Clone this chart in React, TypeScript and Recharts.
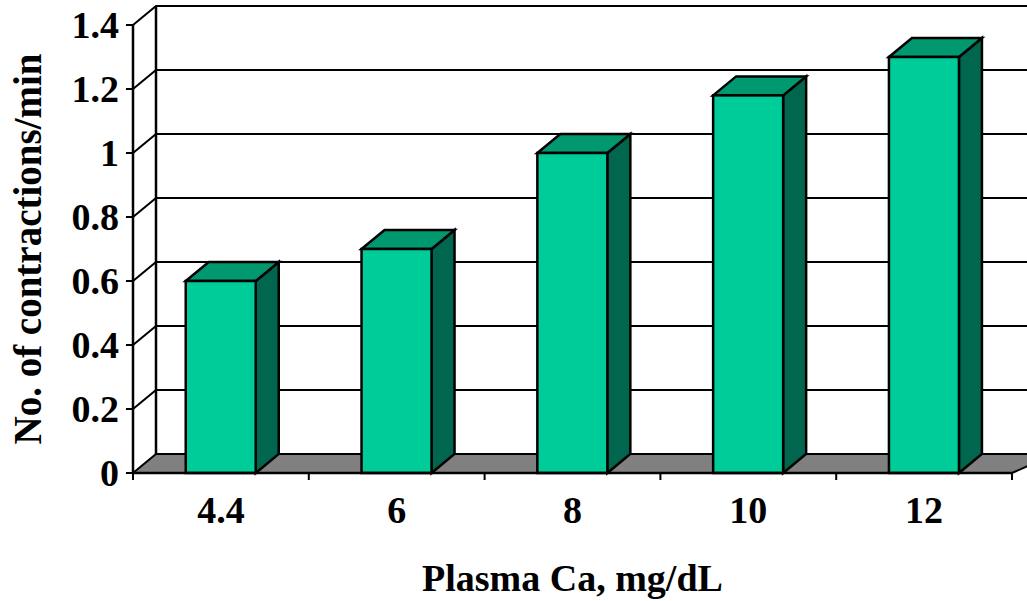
import { BarChart, Bar, XAxis, YAxis, CartesianGrid } from "recharts";

// Plasma calcium level vs. contraction rate
const categories = ["4.4", "6", "8", "10", "12"];
const contractions = [0.6, 0.7, 1.0, 1.18, 1.3];
const yTicks = [0, 0.2, 0.4, 0.6, 0.8, 1, 1.2, 1.4];

const data = categories.map((c, i) => ({ ca: c, rate: contractions[i] }));

const W = 1027;
const H = 601;
// depth offset of the fake 3D
const DX = 23;
const DY = 19;
const FONT = '"Liberation Serif", "Times New Roman", serif';
const LABEL_SIZE = 38;

const gridLine = (p: any) => {
  const { x1, x2, y1, horizontalPoints } = p;
  const pts: number[] = horizontalPoints && horizontalPoints.length ? horizontalPoints : [p.y, p.y + p.height];
  const bottom = Math.max(...pts);
  const top = Math.min(...pts);
  if (Math.abs(y1 - bottom) < 0.5) {
    // floor + back-left edge of the wall
    return (
      <g key={p.key}>
        <line x1={x1 + DX} y1={top - DY} x2={x1 + DX} y2={y1 - DY} stroke="#000" strokeWidth={2.5} />
        <polygon
          points={`${x1},${y1} ${x1 + DX},${y1 - DY} ${x2 + DX + 20},${y1 - DY} ${x2},${y1}`}
          fill="#808080"
          stroke="#000"
          strokeWidth={2}
        />
      </g>
    );
  }
  return (
    <polyline
      key={p.key}
      points={`${x1},${y1} ${x1 + DX},${y1 - DY} ${x2 + DX + 20},${y1 - DY}`}
      fill="none"
      stroke="#000"
      strokeWidth={2}
    />
  );
};

const Column3D = (p: any) => {
  const { x, y, width, height } = p;
  if (!height) return null;
  const r = x + width;
  const b = y + height;
  return (
    <g stroke="#000" strokeWidth={2.5} strokeLinejoin="miter">
      <polygon points={`${r},${y} ${r + DX},${y - DY} ${r + DX},${b - DY} ${r},${b}`} fill="#00664D" />
      <polygon points={`${x},${y} ${x + DX},${y - DY} ${r + DX},${y - DY} ${r},${y}`} fill="#00996F" />
      <rect x={x} y={y} width={width} height={height} fill="#00CC99" />
    </g>
  );
};

const XTick = (p: any) => {
  const { x, y, width, visibleTicksCount, index, payload } = p;
  const band = width / (visibleTicksCount || categories.length);
  const axisY = y - 8;
  const last = index === (visibleTicksCount || categories.length) - 1;
  return (
    <g>
      <line x1={x - band / 2} y1={axisY} x2={x - band / 2} y2={axisY + 7} stroke="#000" strokeWidth={2} />
      {last && <line x1={x + band / 2} y1={axisY} x2={x + band / 2} y2={axisY + 7} stroke="#000" strokeWidth={2} />}
      <text
        x={x}
        y={axisY + 37}
        dy="0.35em"
        textAnchor="middle"
        fontFamily={FONT}
        fontWeight="bold"
        fontSize={LABEL_SIZE}
        fill="#000"
      >
        {payload.value}
      </text>
    </g>
  );
};

const YTitle = (p: any) => {
  const vb = p.viewBox || { y: 25, height: 448 };
  const cy = vb.y + vb.height / 2;
  const cx = 27;
  return (
    <text
      x={cx}
      y={cy}
      transform={`rotate(-90 ${cx} ${cy})`}
      textAnchor="middle"
      dominantBaseline="central"
      fontFamily={FONT}
      fontWeight="bold"
      fontSize={LABEL_SIZE + 1}
      fill="#000"
    >
      No. of contractions/min
    </text>
  );
};

export default function App() {
  return (
    <div style={{ position: "absolute", left: 0, top: 0, width: W, height: H, background: "#fff" }}>
      <BarChart width={W} height={H} data={data} margin={{ top: 25, right: 15, left: 0, bottom: 0 }} barCategoryGap="30%">
        <CartesianGrid horizontal={gridLine} vertical={false} />
        <XAxis
          dataKey="ca"
          height={128}
          interval={0}
          axisLine={{ stroke: "#000", strokeWidth: 2.5 }}
          tickLine={false}
          tickSize={8}
          tickMargin={0}
          tick={<XTick />}
          label={{
            value: "Plasma Ca, mg/dL",
            position: "insideBottom",
            offset: 10,
            fill: "#000",
            fontSize: LABEL_SIZE,
            fontWeight: "bold",
            fontFamily: FONT,
          }}
        />
        <YAxis
          type="number"
          domain={[0, 1.4]}
          ticks={yTicks}
          interval={0}
          width={133}
          axisLine={{ stroke: "#000", strokeWidth: 2.5 }}
          tickLine={{ stroke: "#000", strokeWidth: 2 }}
          tickSize={7}
          tickMargin={7}
          tick={{ fill: "#000", fontSize: LABEL_SIZE, fontWeight: "bold", fontFamily: FONT }}
          label={<YTitle />}
        />
        <Bar dataKey="rate" shape={<Column3D />} isAnimationActive={false} />
      </BarChart>
    </div>
  );
}
